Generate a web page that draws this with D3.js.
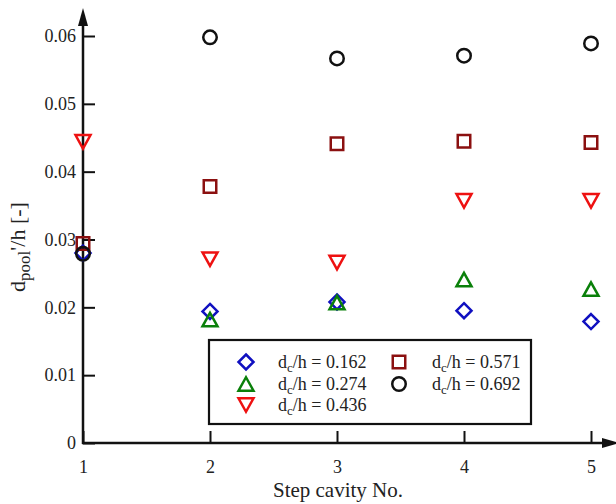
<!DOCTYPE html>
<html>
<head>
<meta charset="utf-8">
<script src="https://cdn.jsdelivr.net/npm/d3@7"></script>
<style>
  html, body { margin: 0; padding: 0; background: #fff; }
  svg { display: block; }
  text { font-family: "Liberation Serif", "Times New Roman", serif; fill: #222; }
</style>
</head>
<body>
<svg id="chart" width="616" height="504"></svg>
<script>
// Step cavity index along the horizontal axis
const cavities = [1, 2, 3, 4, 5];

// Relative pool depth d_pool'/h per cavity, one list per discharge ratio
const series_0162 = [0.0280, 0.0194, 0.0208, 0.0195, 0.0179];
const series_0274 = [null, 0.0182, 0.0207, 0.0241, 0.0227];
const series_0436 = [0.0444, 0.0271, 0.0266, 0.0357, 0.0357];
const series_0571 = [0.0294, 0.0378, 0.0441, 0.0445, 0.0443];
const series_0692 = [0.0279, 0.0598, 0.0567, 0.0571, 0.0589];

const seriesLabels = ["0.162", "0.274", "0.436", "0.571", "0.692"];
const seriesColors = ["#1010c0", "#0a800a", "#ee1111", "#8b1010", "#111111"];

const xTicks = [1, 2, 3, 4, 5];
const yTicks = [0, 0.01, 0.02, 0.03, 0.04, 0.05, 0.06];

// Outline marker shapes, sized by their bounding box width
const shapes = {
  diamond: { draw(ctx, size) { const r = Math.sqrt(size) / 2;
    ctx.moveTo(0, -r); ctx.lineTo(r, 0); ctx.lineTo(0, r); ctx.lineTo(-r, 0); ctx.closePath(); } },
  triUp: { draw(ctx, size) { const w = Math.sqrt(size) / 2, h = w * 0.9;
    ctx.moveTo(0, -h); ctx.lineTo(w, h); ctx.lineTo(-w, h); ctx.closePath(); } },
  triDown: { draw(ctx, size) { const w = Math.sqrt(size) / 2, h = w * 0.9;
    ctx.moveTo(0, h); ctx.lineTo(w, -h); ctx.lineTo(-w, -h); ctx.closePath(); } },
  square: { draw(ctx, size) { const r = Math.sqrt(size) / 2;
    ctx.rect(-r, -r, 2 * r, 2 * r); } },
  circle: { draw(ctx, size) { const r = Math.sqrt(size) / 2;
    ctx.moveTo(r, 0); ctx.arc(0, 0, r, 0, 2 * Math.PI); } }
};

const series = [
  { label: seriesLabels[0], values: series_0162, color: seriesColors[0], shape: shapes.diamond, size: 15 },
  { label: seriesLabels[1], values: series_0274, color: seriesColors[1], shape: shapes.triUp, size: 15 },
  { label: seriesLabels[2], values: series_0436, color: seriesColors[2], shape: shapes.triDown, size: 15 },
  { label: seriesLabels[3], values: series_0571, color: seriesColors[3], shape: shapes.square, size: 12.5 },
  { label: seriesLabels[4], values: series_0692, color: seriesColors[4], shape: shapes.circle, size: 13.5 }
];

const svg = d3.select("#chart");
const x = d3.scaleLinear().domain([1, 5]).range([83, 591]);
const y = d3.scaleLinear().domain([0, 0.06]).range([443, 36]);

const symbolPath = s => d3.symbol().type(s.shape).size(s.size * s.size)();

// Axes: inward ticks, labels outside
const yAxis = d3.axisLeft(y).tickValues(yTicks).tickSize(-12).tickPadding(7)
  .tickFormat(d => d === 0 ? "0" : d3.format(".2f")(d));
const gy = svg.append("g").attr("transform", `translate(${x(1)},0)`).call(yAxis)
  .attr("font-family", "Liberation Serif").attr("font-size", 18);
gy.select(".domain").remove();
gy.selectAll(".tick line").attr("stroke", "#111").attr("stroke-width", 2);
gy.selectAll(".tick text").attr("fill", "#222");

const xAxis = d3.axisBottom(x).tickValues(xTicks).tickSize(-12).tickPadding(17)
  .tickFormat(d3.format("d"));
const gx = svg.append("g").attr("transform", `translate(0,${y(0)})`).call(xAxis)
  .attr("font-family", "Liberation Serif").attr("font-size", 18);
gx.select(".domain").remove();
gx.selectAll(".tick line").attr("stroke", "#111").attr("stroke-width", 2);
gx.selectAll(".tick text").attr("fill", "#222");

// Axis lines with arrow heads
const axisG = svg.append("g").attr("stroke", "#111").attr("fill", "#111");
axisG.append("line").attr("x1", x(1)).attr("y1", y(0) + 1).attr("x2", x(1)).attr("y2", 20)
  .attr("stroke-width", 2.5);
axisG.append("path").attr("d", `M${x(1)},8 L${x(1) + 5},26 L${x(1) - 5},26 Z`).attr("stroke", "none");
axisG.append("line").attr("x1", x(1) - 1).attr("y1", y(0)).attr("x2", 606).attr("y2", y(0))
  .attr("stroke-width", 2.5);
axisG.append("path").attr("d", `M620,${y(0)} L602,${y(0) - 5} L602,${y(0) + 5} Z`).attr("stroke", "none");

// Axis titles
svg.append("text").attr("x", 338).attr("y", 497).attr("text-anchor", "middle")
  .attr("font-size", 21).text("Step cavity No.");

const yl = svg.append("text").attr("transform", "translate(25,247) rotate(-90)")
  .attr("text-anchor", "middle").attr("font-size", 22);
yl.append("tspan").text("d");
yl.append("tspan").attr("font-size", 17).attr("dy", 5).text("pool");
yl.append("tspan").attr("dy", -5).text("'/h [-]");

// Data markers
series.forEach(s => {
  const pts = cavities.map((c, i) => ({ c, v: s.values[i] })).filter(p => p.v != null);
  svg.append("g").selectAll("path").data(pts).join("path")
    .attr("transform", p => `translate(${x(p.c)},${y(p.v)})`)
    .attr("d", symbolPath(s))
    .attr("fill", "none").attr("stroke", s.color).attr("stroke-width", 2.5);
});

// Legend
const lg = svg.append("g");
lg.append("rect").attr("x", 209).attr("y", 340).attr("width", 322).attr("height", 84)
  .attr("fill", "#fff").attr("stroke", "#111").attr("stroke-width", 2.2);
const legendPos = [
  { mx: 246, tx: 278, ty: 362 },
  { mx: 246, tx: 278, ty: 384 },
  { mx: 246, tx: 278, ty: 405 },
  { mx: 399, tx: 432, ty: 362 },
  { mx: 399, tx: 432, ty: 384 }
];
series.forEach((s, i) => {
  const p = legendPos[i];
  lg.append("path").attr("transform", `translate(${p.mx},${p.ty})`).attr("d", symbolPath(s))
    .attr("fill", "none").attr("stroke", s.color).attr("stroke-width", 2.5);
  const t = lg.append("text").attr("x", p.tx).attr("y", p.ty + 6).attr("font-size", 18);
  t.append("tspan").text("d");
  t.append("tspan").attr("font-size", 13).attr("dy", 4).text("c");
  t.append("tspan").attr("dy", -4).text("/h = " + s.label);
});
</script>
</body>
</html>
